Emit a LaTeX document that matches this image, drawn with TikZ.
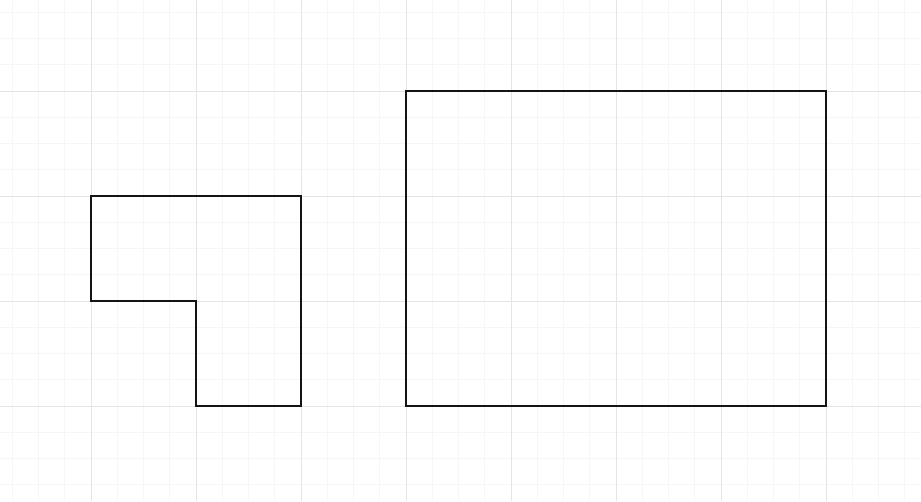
\documentclass[tikz,border=0pt]{standalone}
\begin{document}
\begin{tikzpicture}[x=0.75pt,y=-0.75pt,
  minorgrid/.style={draw={rgb,255:red,246;green,246;blue,246},line width=0.75pt},
  majorgrid/.style={draw={rgb,255:red,228;green,228;blue,228},line width=0.75pt},
  outline/.style={draw={rgb,255:red,20;green,20;blue,20},line width=1.9pt,line join=miter}]
\useasboundingbox[fill=white] (0,0) rectangle (921,501);
\foreach \k in {-3,...,31} {
  \pgfmathsetmacro\p{91+\k*26.25}
  \draw[minorgrid] (\p,0) -- (\p,501);
  \draw[minorgrid] (0,\p) -- (921,\p);
}
\foreach \k in {-1,...,8} {
  \pgfmathsetmacro\p{91+\k*105}
  \draw[majorgrid] (\p,0) -- (\p,501);
  \draw[majorgrid] (0,\p) -- (921,\p);
}
\draw[outline] (91,196) -- (301,196) -- (301,406) -- (196,406) -- (196,301) -- (91,301) -- cycle;
\draw[outline] (406,91) rectangle (826,406);
\end{tikzpicture}
\end{document}
